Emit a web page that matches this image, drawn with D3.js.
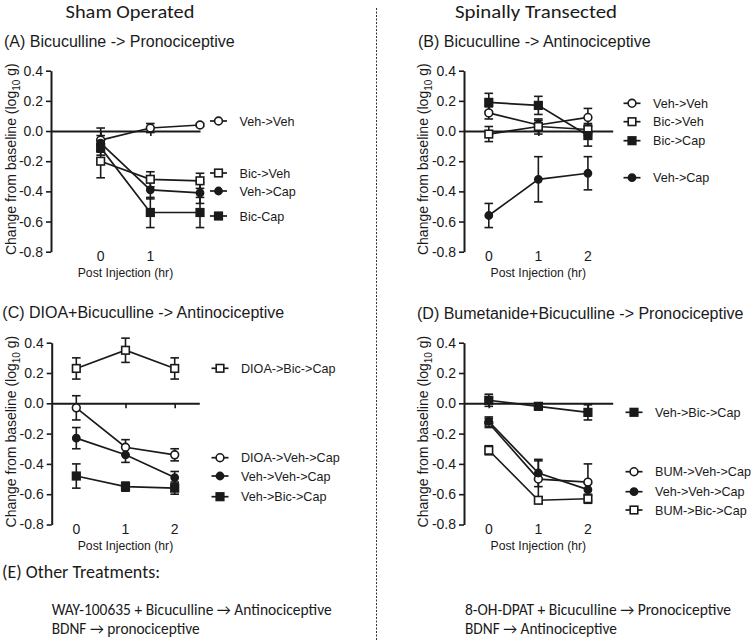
<!DOCTYPE html>
<html><head><meta charset="utf-8">
<script src="https://cdn.jsdelivr.net/npm/d3@7"></script>
<style>body{margin:0;background:#fff}svg{display:block}</style>
</head><body>
<svg id="c" width="755" height="640"></svg>
<script>
// ---------------- data ----------------
const timePoints = [0, 1, 2];
const yTickValues = [0.4, 0.2, 0.0, -0.2, -0.4, -0.6, -0.8];
const xTicksA = [0, 1];
const xTicksBCD = [0, 1, 2];

// (A) Sham, Bicuculline -> Pronociceptive
const namesA = ["Veh->Veh", "Bic->Veh", "Veh->Cap", "Bic-Cap"];
const meansA = [[-0.06, 0.02, 0.04], [-0.20, -0.32, -0.33], [-0.08, -0.39, -0.41], [-0.11, -0.54, -0.54]];
const errsA  = [[0.08, 0.03, 0.01], [0.11, 0.05, 0.05], [0.05, 0.06, 0.07], [0.05, 0.10, 0.10]];

// (B) Transected, Bicuculline -> Antinociceptive
const namesB = ["Veh->Veh", "Bic->Veh", "Bic->Cap", "Veh->Cap"];
const meansB = [[0.12, 0.04, 0.09], [-0.02, 0.03, 0.01], [0.19, 0.17, -0.03], [-0.56, -0.32, -0.28]];
const errsB  = [[0.04, 0.03, 0.06], [0.05, 0.05, 0.04], [0.06, 0.06, 0.07], [0.08, 0.15, 0.11]];

// (C) DIOA+Bicuculline -> Antinociceptive
const namesC = ["DIOA->Bic->Cap", "DIOA->Veh->Cap", "Veh->Veh->Cap", "Veh->Bic->Cap"];
const meansC = [[0.23, 0.35, 0.23], [-0.03, -0.29, -0.34], [-0.23, -0.34, -0.49], [-0.48, -0.55, -0.56]];
const errsC  = [[0.07, 0.08, 0.07], [0.08, 0.05, 0.04], [0.07, 0.05, 0.04], [0.08, 0.03, 0.04]];

// (D) Bumetanide+Bicuculline -> Pronociceptive
const namesD = ["Veh->Bic->Cap", "BUM->Veh->Cap", "Veh->Veh->Cap", "BUM->Bic->Cap"];
const meansD = [[0.02, -0.02, -0.06], [-0.13, -0.50, -0.52], [-0.12, -0.46, -0.57], [-0.31, -0.64, -0.63]];
const errsD  = [[0.04, 0.02, 0.05], [0.03, 0.12, 0.12], [0.03, 0.09, 0.04], [0.03, 0.02, 0.03]];

const panelTitles = ["(A) Bicuculline -> Pronociceptive", "(B) Bicuculline -> Antinociceptive",
  "(C) DIOA+Bicuculline -> Antinociceptive", "(D) Bumetanide+Bicuculline -> Pronociceptive"];
const headers = ["Sham Operated", "Spinally Transected"];
const otherTitle = "(E) Other Treatments:";
const otherLeft = ["WAY-100635 + Bicuculline \u2192 Antinociceptive", "BDNF \u2192 pronociceptive"];
const otherRight = ["8-OH-DPAT + Bicuculline \u2192 Pronociceptive", "BDNF \u2192 Antinociceptive"];

// ---------------- styles / layout ----------------
const ARIAL = "'Liberation Sans', Arial, Helvetica, sans-serif";
const CAL = "Carlito, Lato, 'Open Sans', sans-serif";
const markerA = ["oc", "os", "fc", "fs"];
const markerB = ["oc", "os", "fs", "fc"];
const markerC = ["os", "oc", "fc", "fs"];
const markerD = ["fs", "oc", "fc", "os"];

const layout = [
  {names: namesA, means: meansA, errs: errsA, markers: markerA, xDomain: [-1, 2], xTicks: xTicksA,
   left: 51, right: 200, top: 70.7, bottom: 251.7, ylabX: 11, legX: 218.5, legY: [121, 173, 191, 216],
   title: panelTitles[0], titleX: 4, titleY: 47.3},
  {names: namesB, means: meansB, errs: errsB, markers: markerB, xDomain: [-0.5, 2.5], xTicks: xTicksBCD,
   left: 464, right: 612.7, top: 70.7, bottom: 251.7, ylabX: 423.3, legX: 632, legY: [103.3, 121.7, 140.7, 177.7],
   title: panelTitles[1], titleX: 418, titleY: 47.3},
  {names: namesC, means: meansC, errs: errsC, markers: markerC, xDomain: [-0.5, 2.5], xTicks: xTicksBCD,
   left: 51.7, right: 199.3, top: 342.7, bottom: 524.5, ylabX: 11, legX: 220, legY: [368.3, 457.7, 476, 496.7],
   title: panelTitles[2], titleX: 2.3, titleY: 317.5},
  {names: namesD, means: meansD, errs: errsD, markers: markerD, xDomain: [-0.5, 2.5], xTicks: xTicksBCD,
   left: 464, right: 612.7, top: 342.7, bottom: 524.5, ylabX: 423.3, legX: 634, legY: [412.3, 471.7, 491.7, 510],
   title: panelTitles[3], titleX: 417, titleY: 318.5}
];

const svg = d3.select("#c");
const INK = "#1a1a1a";

function drawMarker(g, type, cx, cy) {
  const filled = type[0] === "f";
  if (type[1] === "c") {
    g.append("circle").attr("cx", cx).attr("cy", cy).attr("r", filled ? 3.6 : 3.9)
      .attr("fill", filled ? INK : "#fff").attr("stroke", INK).attr("stroke-width", 1.6);
  } else {
    const s = 7.6;
    g.append("rect").attr("x", cx - s / 2).attr("y", cy - s / 2).attr("width", s).attr("height", s)
      .attr("fill", filled ? INK : "#fff").attr("stroke", INK).attr("stroke-width", 1.6);
  }
}

function drawPanel(p) {
  const x = d3.scaleLinear().domain(p.xDomain).range([p.left, p.right]);
  const y = d3.scaleLinear().domain([-0.8, 0.4]).range([p.bottom, p.top]);
  const g = svg.append("g");

  // y axis
  const ya = g.append("g").attr("transform", `translate(${p.left},0)`)
    .call(d3.axisLeft(y).tickValues(yTickValues).tickSize(5).tickSizeOuter(0).tickPadding(3)
      .tickFormat(d => d.toFixed(1)));
  ya.select(".domain").attr("stroke", INK).attr("stroke-width", 2);
  ya.selectAll(".tick line").attr("stroke", INK).attr("stroke-width", 1.6);
  ya.selectAll(".tick text").attr("font-family", ARIAL).attr("font-size", 14).attr("fill", INK);

  // zero line with ticks
  const xa = g.append("g").attr("transform", `translate(0,${y(0)})`)
    .call(d3.axisBottom(x).tickValues(p.xTicks).tickSize(5).tickSizeOuter(0).tickFormat(""));
  xa.select(".domain").attr("stroke", INK).attr("stroke-width", 2);
  xa.selectAll(".tick line").attr("stroke", INK).attr("stroke-width", 1.6);

  // x tick labels at the bottom
  g.selectAll(".xl").data(p.xTicks).join("text").attr("class", "xl")
    .attr("x", d => x(d)).attr("y", p.bottom + 9.3).attr("text-anchor", "middle")
    .attr("font-family", ARIAL).attr("font-size", 14).attr("fill", INK).text(d => d);

  g.append("text").attr("x", (p.left + p.right) / 2).attr("y", p.bottom + 25)
    .attr("text-anchor", "middle").attr("font-family", ARIAL).attr("font-size", 12.2).attr("fill", INK)
    .text("Post Injection (hr)");

  // y label
  const cy = (p.top + p.bottom) / 2 - 2;
  const yl = g.append("text").attr("transform", `translate(${p.ylabX + 5},${cy}) rotate(-90)`)
    .attr("text-anchor", "middle").attr("font-family", ARIAL).attr("font-size", 14).attr("fill", INK);
  yl.append("tspan").text("Change from baseline (log");
  yl.append("tspan").attr("font-size", 10).attr("dy", 4).text("10");
  yl.append("tspan").attr("dy", -4).text(" g)");

  // title
  g.append("text").attr("x", p.titleX).attr("y", p.titleY).attr("font-family", ARIAL)
    .attr("font-size", 16).attr("fill", INK).text(p.title);

  const line = d3.line().x((d, i) => x(timePoints[i])).y(d => y(d));

  // error bars
  p.means.forEach((m, si) => {
    m.forEach((v, i) => {
      const e = p.errs[si][i];
      const cx = x(timePoints[i]);
      g.append("line").attr("x1", cx).attr("x2", cx).attr("y1", y(v - e)).attr("y2", y(v + e))
        .attr("stroke", INK).attr("stroke-width", 1.6);
      [v - e, v + e].forEach(w => g.append("line").attr("x1", cx - 4.3).attr("x2", cx + 4.3)
        .attr("y1", y(w)).attr("y2", y(w)).attr("stroke", INK).attr("stroke-width", 1.6));
    });
  });
  // lines
  p.means.forEach(m => g.append("path").attr("d", line(m)).attr("fill", "none")
    .attr("stroke", INK).attr("stroke-width", 1.7));
  // markers
  p.means.forEach((m, si) => m.forEach((v, i) => drawMarker(g, p.markers[si], x(timePoints[i]), y(v))));

  // legend
  p.names.forEach((n, si) => {
    const ly = p.legY[si];
    g.append("line").attr("x1", p.legX - 8.5).attr("x2", p.legX + 8.5).attr("y1", ly).attr("y2", ly)
      .attr("stroke", INK).attr("stroke-width", 1.7);
    drawMarker(g, p.markers[si], p.legX, ly);
    g.append("text").attr("x", p.legX + 21).attr("y", ly + 4.5).attr("font-family", ARIAL)
      .attr("font-size", 12.6).attr("fill", INK).text(n);
  });
}

layout.forEach(drawPanel);

// headers and divider
function fitText(str, x, y, size, width, anchor) {
  return svg.append("text").attr("x", x).attr("y", y).attr("font-family", CAL).attr("font-size", size)
    .attr("fill", INK).attr("text-anchor", anchor || "start")
    .attr("textLength", width).attr("lengthAdjust", "spacingAndGlyphs").text(str);
}
fitText(headers[0], 130, 18.2, 18, 129, "middle");
fitText(headers[1], 536, 18.2, 18, 162, "middle");

svg.append("line").attr("x1", 376.5).attr("x2", 376.5).attr("y1", 8).attr("y2", 640)
  .attr("stroke", "#333").attr("stroke-width", 1).attr("stroke-dasharray", "2,1.5");

fitText(otherTitle, 2, 578, 18, 158);
fitText(otherLeft[0], 51.7, 614.8, 15.5, 280);
fitText(otherLeft[1], 51.7, 633.8, 15.5, 148);
fitText(otherRight[0], 465, 614.8, 15.5, 266);
fitText(otherRight[1], 465, 633.8, 15.5, 152);
</script>
</body></html>
